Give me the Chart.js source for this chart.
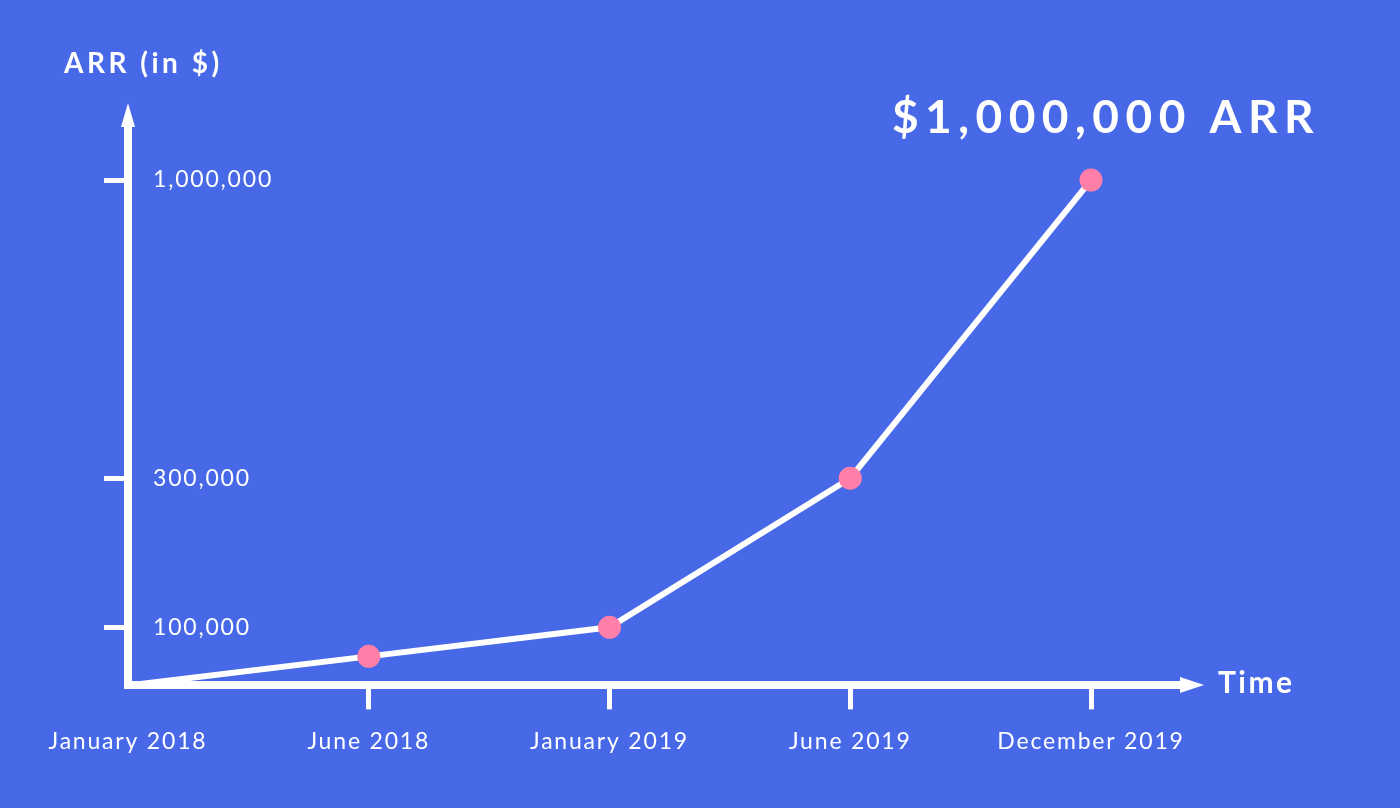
<!DOCTYPE html>
<html>
<head>
<meta charset="utf-8">
<title>ARR growth</title>
<script src="https://cdn.jsdelivr.net/npm/chart.js@4.4.1/dist/chart.umd.min.js"></script>
<style>
  html, body { margin: 0; padding: 0; background: #4769e8; }
  #wrap { width: 1400px; height: 808px; position: relative; }
</style>
</head>
<body>
<div id="wrap"><canvas id="arrChart"></canvas></div>
<script>
// Values
const months = ['January 2018', 'June 2018', 'January 2019', 'June 2019', 'December 2019'];
const arrValues = [0, 50000, 100000, 300000, 1000000];
const arrTicks = [100000, 300000, 1000000];
const highlightText = '$1,000,000 ARR';
const yAxisTitle = 'ARR (in $)';
const xAxisTitle = 'Time';

const WHITE = '#ffffff';
const PINK = '#ff7fa8';
const FONT = 'Lato, "Open Sans", sans-serif';
const AXIS_W = 8;

// The y axis in the drawing is not linear: each stop says how far up (0..1) a value sits
const Y_STOPS = [[0, 0], [100000, 0.104], [300000, 0.371], [1000000, 0.905], [1150000, 1]];

class StepScale extends Chart.LinearScale {
    static id = 'step';

    getPixelForValue(value) {
        if (value === null || value === undefined) return NaN;
        let i = 1;
        while (i < Y_STOPS.length - 1 && value > Y_STOPS[i][0]) i++;
        const [v0, f0] = Y_STOPS[i - 1];
        const [v1, f1] = Y_STOPS[i];
        return this.getPixelForDecimal(f0 + (value - v0) / (v1 - v0) * (f1 - f0));
    }

    getValueForPixel(pixel) {
        const d = this.getDecimalForPixel(pixel);
        let i = 1;
        while (i < Y_STOPS.length - 1 && d > Y_STOPS[i][1]) i++;
        const [v0, f0] = Y_STOPS[i - 1];
        const [v1, f1] = Y_STOPS[i];
        return v0 + (d - f0) / (f1 - f0) * (v1 - v0);
    }
}
Chart.register(StepScale);

// Arrowheads, axis names and the big callout
const decorPlugin = {
    id: 'decor',
    beforeUpdate(chart) { chart.ctx.letterSpacing = '1.8px'; },
    beforeDraw(chart) { chart.ctx.letterSpacing = '1.8px'; },
    afterDraw(chart) {
        const { ctx, chartArea } = chart;
        const axisY = Math.round(chartArea.bottom - AXIS_W / 2) + AXIS_W / 2;
        const axisX = Math.round(chartArea.left - AXIS_W / 2) + AXIS_W / 2;
        const xEnd = chartArea.right + 89;

        ctx.save();
        ctx.fillStyle = WHITE;
        ctx.strokeStyle = WHITE;

        // x axis carries on past the last month
        ctx.lineWidth = AXIS_W;
        ctx.beginPath();
        ctx.moveTo(chartArea.right - 2, axisY);
        ctx.lineTo(xEnd, axisY);
        ctx.stroke();

        ctx.beginPath();
        ctx.moveTo(xEnd + 24, axisY);
        ctx.lineTo(xEnd, axisY - 8);
        ctx.lineTo(xEnd, axisY + 8);
        ctx.closePath();
        ctx.fill();

        ctx.beginPath();
        ctx.moveTo(axisX, chartArea.top - 24);
        ctx.lineTo(axisX - 7, chartArea.top);
        ctx.lineTo(axisX + 7, chartArea.top);
        ctx.closePath();
        ctx.fill();

        ctx.letterSpacing = '3.5px';
        ctx.textBaseline = 'alphabetic';
        ctx.textAlign = 'left';
        ctx.font = '700 28px ' + FONT;
        ctx.fillText(yAxisTitle, axisX - 64, chartArea.top - 54);
        ctx.letterSpacing = '2.5px';
        ctx.font = '700 30px ' + FONT;
        ctx.fillText(xAxisTitle, xEnd + 38, axisY + 8);

        // callout sits over the last point
        const meta = chart.getDatasetMeta(0);
        const last = meta.data[meta.data.length - 1];
        ctx.letterSpacing = '6.5px';
        ctx.textAlign = 'center';
        ctx.font = '700 46px ' + FONT;
        ctx.fillText(highlightText, last.x + 15, last.y - 47);
        ctx.restore();
    }
};

new Chart(document.getElementById('arrChart'), {
    type: 'line',
    data: {
        labels: months,
        datasets: [{
            data: arrValues,
            borderColor: WHITE,
            borderWidth: 6,
            tension: 0,
            clip: false,
            pointRadius: ctx => ctx.dataIndex === 0 ? 0 : 11.5,
            pointBackgroundColor: PINK,
            pointBorderWidth: 0
        }]
    },
    options: {
        responsive: true,
        maintainAspectRatio: false,
        animation: false,
        events: [],
        layout: { padding: { left: 54, right: 309, top: 127, bottom: 35 } },
        plugins: {
            legend: { display: false },
            title: { display: false },
            tooltip: { enabled: false }
        },
        scales: {
            x: {
                type: 'category',
                offset: false,
                border: { display: true, color: WHITE, width: AXIS_W },
                grid: {
                    drawOnChartArea: false,
                    drawTicks: true,
                    tickLength: 24,
                    lineWidth: 5,
                    color: ctx => ctx.index === 0 ? 'rgba(0,0,0,0)' : WHITE
                },
                ticks: {
                    color: WHITE,
                    font: { family: FONT, size: 23 },
                    padding: 18,
                    maxRotation: 0,
                    autoSkip: false
                }
            },
            y: {
                type: 'step',
                min: 0,
                max: 1150000,
                bounds: 'data',
                border: { display: true, color: WHITE, width: AXIS_W },
                grid: {
                    drawOnChartArea: false,
                    drawTicks: true,
                    tickLength: 24,
                    lineWidth: 5,
                    color: WHITE
                },
                afterBuildTicks: scale => {
                    scale.ticks = arrTicks.map(v => ({ value: v }));
                },
                ticks: {
                    mirror: true,
                    padding: 25,
                    color: WHITE,
                    font: { family: FONT, size: 23 },
                    callback: v => Number(v).toLocaleString('en-US')
                }
            }
        }
    },
    plugins: [decorPlugin]
});
</script>
</body>
</html>
